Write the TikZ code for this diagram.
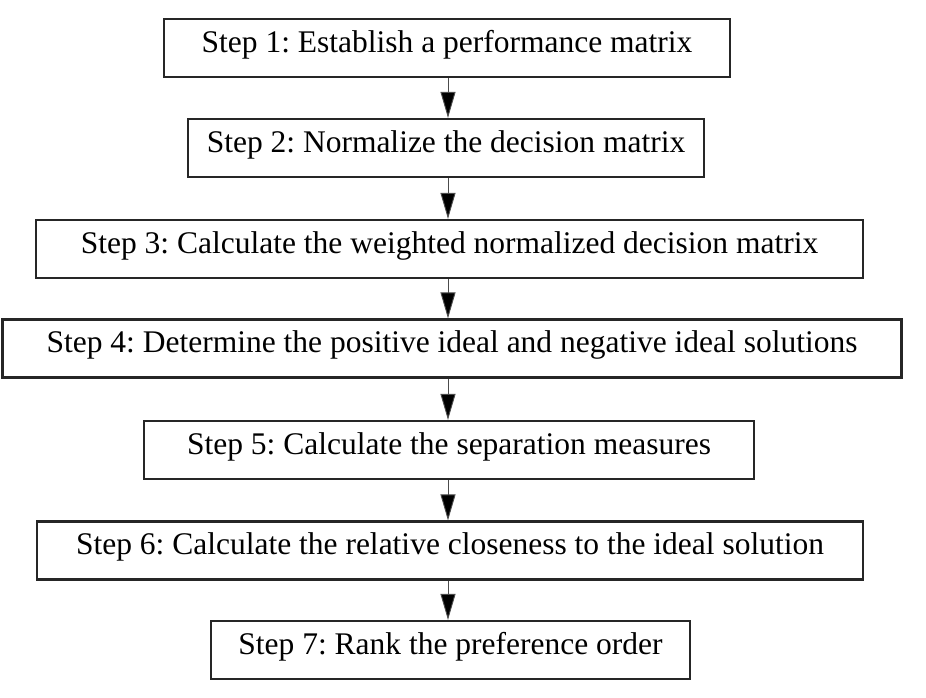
\documentclass[tikz,border=0pt]{standalone}
\usepackage{fontspec}
\setmainfont{Liberation Serif}
\usetikzlibrary{arrows.meta}
\frenchspacing
\begin{document}
\begin{tikzpicture}[x=1pt,y=-1pt,
  stepbox/.style={draw=black!85, line width=2.2pt, fill=white, inner sep=0pt,
    minimum height=58pt, font=\frenchspacing\fontsize{31.5pt}{36pt}\selectfont,
    text height=20pt, text depth=11.5pt},
  arr/.style={draw=black!70, line width=0.9pt,
    -{Triangle[length=26pt,width=15pt,fill=black]}}]
\useasboundingbox[fill=white] (0,0) rectangle (926,697);
\coordinate (ax) at (448,0);
\node[stepbox, minimum width=566pt] (s1) at (447,48) {Step 1: Establish a performance matrix};
\node[stepbox, minimum width=516pt] (s2) at (446,148) {Step 2: Normalize the decision matrix};
\node[stepbox, minimum width=827pt] (s3) at (449.5,249) {Step 3: Calculate the weighted normalized decision matrix};
\node[stepbox, minimum width=899pt] (s4) at (452,348.5) {Step 4: Determine the positive ideal and negative ideal solutions};
\node[stepbox, minimum width=610pt] (s5) at (449,450) {Step 5: Calculate the separation measures};
\node[stepbox, minimum width=826pt] (s6) at (450,550.5) {Step 6: Calculate the relative closeness to the ideal solution};
\node[stepbox, minimum width=479pt] (s7) at (450.5,650) {Step 7: Rank the preference order};
\draw[arr] (s1.south -| ax) -- (s2.north -| ax);
\draw[arr] (s2.south -| ax) -- (s3.north -| ax);
\draw[arr] (s3.south -| ax) -- (s4.north -| ax);
\draw[arr] (s4.south -| ax) -- (s5.north -| ax);
\draw[arr] (s5.south -| ax) -- (s6.north -| ax);
\draw[arr] (s6.south -| ax) -- (s7.north -| ax);
\end{tikzpicture}
\end{document}
